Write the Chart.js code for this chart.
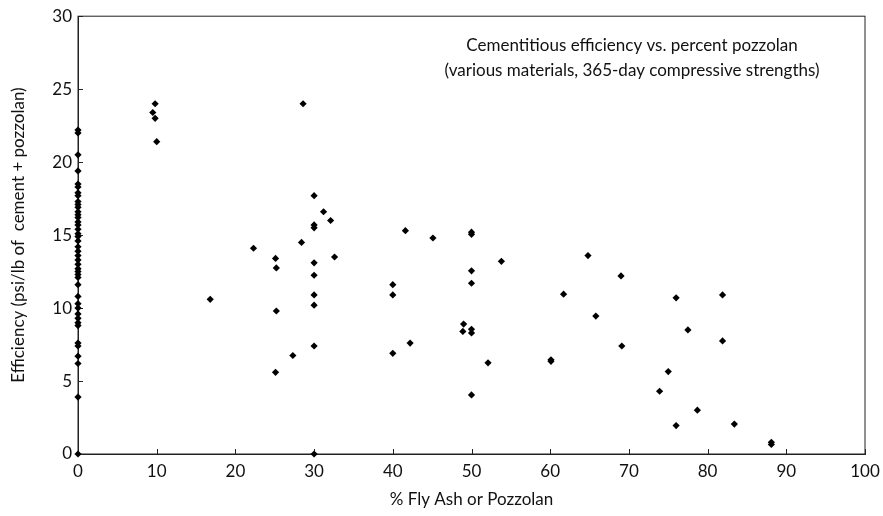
<!DOCTYPE html>
<html>
<head>
<meta charset="utf-8">
<script src="https://cdn.jsdelivr.net/npm/chart.js@4/dist/chart.umd.min.js"></script>
<style>
  html, body { margin: 0; padding: 0; background: #fff; }
  #wrap { width: 883px; height: 516px; }
</style>
</head>
<body>
<div id="wrap"><canvas id="c" width="883" height="516"></canvas></div>
<script>
// valores (eixo x = % pozolana, eixo y = eficiência)
const pctZero = [22.2, 22.0, 20.5, 19.4, 18.5, 18.3, 17.9, 17.7, 17.3, 17.1, 16.9, 16.6, 16.4, 16.2,
  15.9, 15.7, 15.4, 15.1, 14.9, 14.6, 14.2, 13.9, 13.6, 13.3, 13.0, 12.7, 12.5, 12.3, 12.1, 11.6,
  10.8, 10.3, 10.0, 9.6, 9.3, 9.0, 8.8, 7.6, 7.4, 6.7, 6.2, 3.9, 0];
const pctPozzolan = [9.8, 9.5, 9.8, 10.0, 16.8, 22.3, 25.1, 25.2, 25.2, 25.1, 27.3, 28.4, 28.6,
  30, 30, 30, 30, 30, 30, 30, 30, 30, 31.2, 32.1, 32.6,
  40, 40, 40, 41.6, 42.2, 45.1, 49.0, 48.9,
  50, 50, 50, 50, 50, 50, 50, 52.1, 53.8, 60.1, 60.1, 61.7, 64.8, 65.8, 69.0, 69.1,
  73.9, 75.0, 76.0, 76.0, 77.5, 78.7, 81.9, 81.9, 83.4, 88.1, 88.1];
const efficiency = [24.0, 23.4, 23.0, 21.4, 10.6, 14.1, 13.4, 12.75, 9.8, 5.6, 6.75, 14.5, 24.0,
  17.7, 15.7, 15.5, 13.1, 12.25, 10.9, 10.2, 7.4, 0, 16.6, 16.0, 13.5,
  11.6, 10.9, 6.9, 15.3, 7.6, 14.8, 8.9, 8.4,
  15.2, 15.05, 12.55, 11.7, 8.55, 8.3, 4.05, 6.25, 13.2, 6.45, 6.35, 10.95, 13.6, 9.45, 12.2, 7.4,
  4.3, 5.65, 10.7, 1.95, 8.5, 3.0, 10.9, 7.75, 2.05, 0.8, 0.65];
const xTicks = [0, 10, 20, 30, 40, 50, 60, 70, 80, 90, 100];
const yTicks = [0, 5, 10, 15, 20, 25, 30];
const tituloLinhas = ['Cementitious efficiency vs. percent pozzolan',
  '(various materials, 365-day compressive strengths)'];

const pontos = pctZero.map(v => ({ x: 0, y: v }))
  .concat(pctPozzolan.map((x, i) => ({ x: x, y: efficiency[i] })));

const FONTE = 'Lato, "Open Sans", sans-serif';

// moldura, marcas internas e título dentro da área do gráfico
const molduraPlugin = {
  id: 'moldura',
  beforeDatasetsDraw(chart) {
    const { ctx, chartArea: a, scales } = chart;
    ctx.save();
    ctx.strokeStyle = '#222';
    ctx.lineWidth = 1;
    ctx.strokeRect(a.left, a.top, a.right - a.left, a.bottom - a.top);
    ctx.beginPath();
    xTicks.forEach(t => {
      const px = Math.round(scales.x.getPixelForValue(t)) + 0.5;
      ctx.moveTo(px, a.bottom); ctx.lineTo(px, a.bottom - 5);
    });
    yTicks.forEach(t => {
      const py = Math.round(scales.y.getPixelForValue(t)) + 0.5;
      ctx.moveTo(a.left, py); ctx.lineTo(a.left + 5, py);
    });
    ctx.stroke();
    ctx.fillStyle = '#111';
    ctx.font = '17px ' + FONTE;
    ctx.textAlign = 'center';
    ctx.textBaseline = 'middle';
    const cx = scales.x.getPixelForValue(70.4);
    ctx.fillText(tituloLinhas[0], cx, a.top + 29);
    ctx.fillText(tituloLinhas[1], cx, a.top + 54);
    ctx.restore();
  }
};

new Chart(document.getElementById('c'), {
  type: 'scatter',
  data: {
    datasets: [{
      label: 'Efficiency',
      data: pontos,
      pointStyle: 'rectRot',
      pointRadius: 3.6,
      backgroundColor: '#000',
      borderColor: '#000',
      borderWidth: 0,
      clip: false
    }]
  },
  options: {
    responsive: false,
    animation: false,
    events: [],
    layout: { padding: { left: 0, right: 18, top: 16, bottom: 0 } },
    plugins: {
      legend: { display: false },
      tooltip: { enabled: false }
    },
    scales: {
      x: {
        type: 'linear',
        min: 0, max: 100,
        afterBuildTicks: s => { s.ticks = xTicks.map(v => ({ value: v })); },
        afterFit: s => { s.height = 62; s.paddingLeft = 0; s.paddingRight = 0; },
        grid: { display: false, drawTicks: false },
        border: { display: true, color: '#222' },
        ticks: { color: '#111', font: { family: FONTE, size: 17 }, padding: 7 },
        title: {
          display: true, text: '% Fly Ash or Pozzolan', color: '#111',
          font: { family: FONTE, size: 17 }, padding: { top: 4, bottom: 6 }
        }
      },
      y: {
        type: 'linear',
        min: 0, max: 30,
        afterBuildTicks: s => { s.ticks = yTicks.map(v => ({ value: v })); },
        afterFit: s => { s.width = 78; },
        grid: { display: false, drawTicks: false },
        border: { display: true, color: '#222' },
        ticks: { color: '#111', font: { family: FONTE, size: 17 }, padding: 6 },
        title: {
          display: true, text: 'Efficiency (psi/lb of  cement + pozzolan)', color: '#111',
          font: { family: FONTE, size: 17 }, padding: { top: 8, bottom: 0 }
        }
      }
    }
  },
  plugins: [molduraPlugin]
});
</script>
</body>
</html>
